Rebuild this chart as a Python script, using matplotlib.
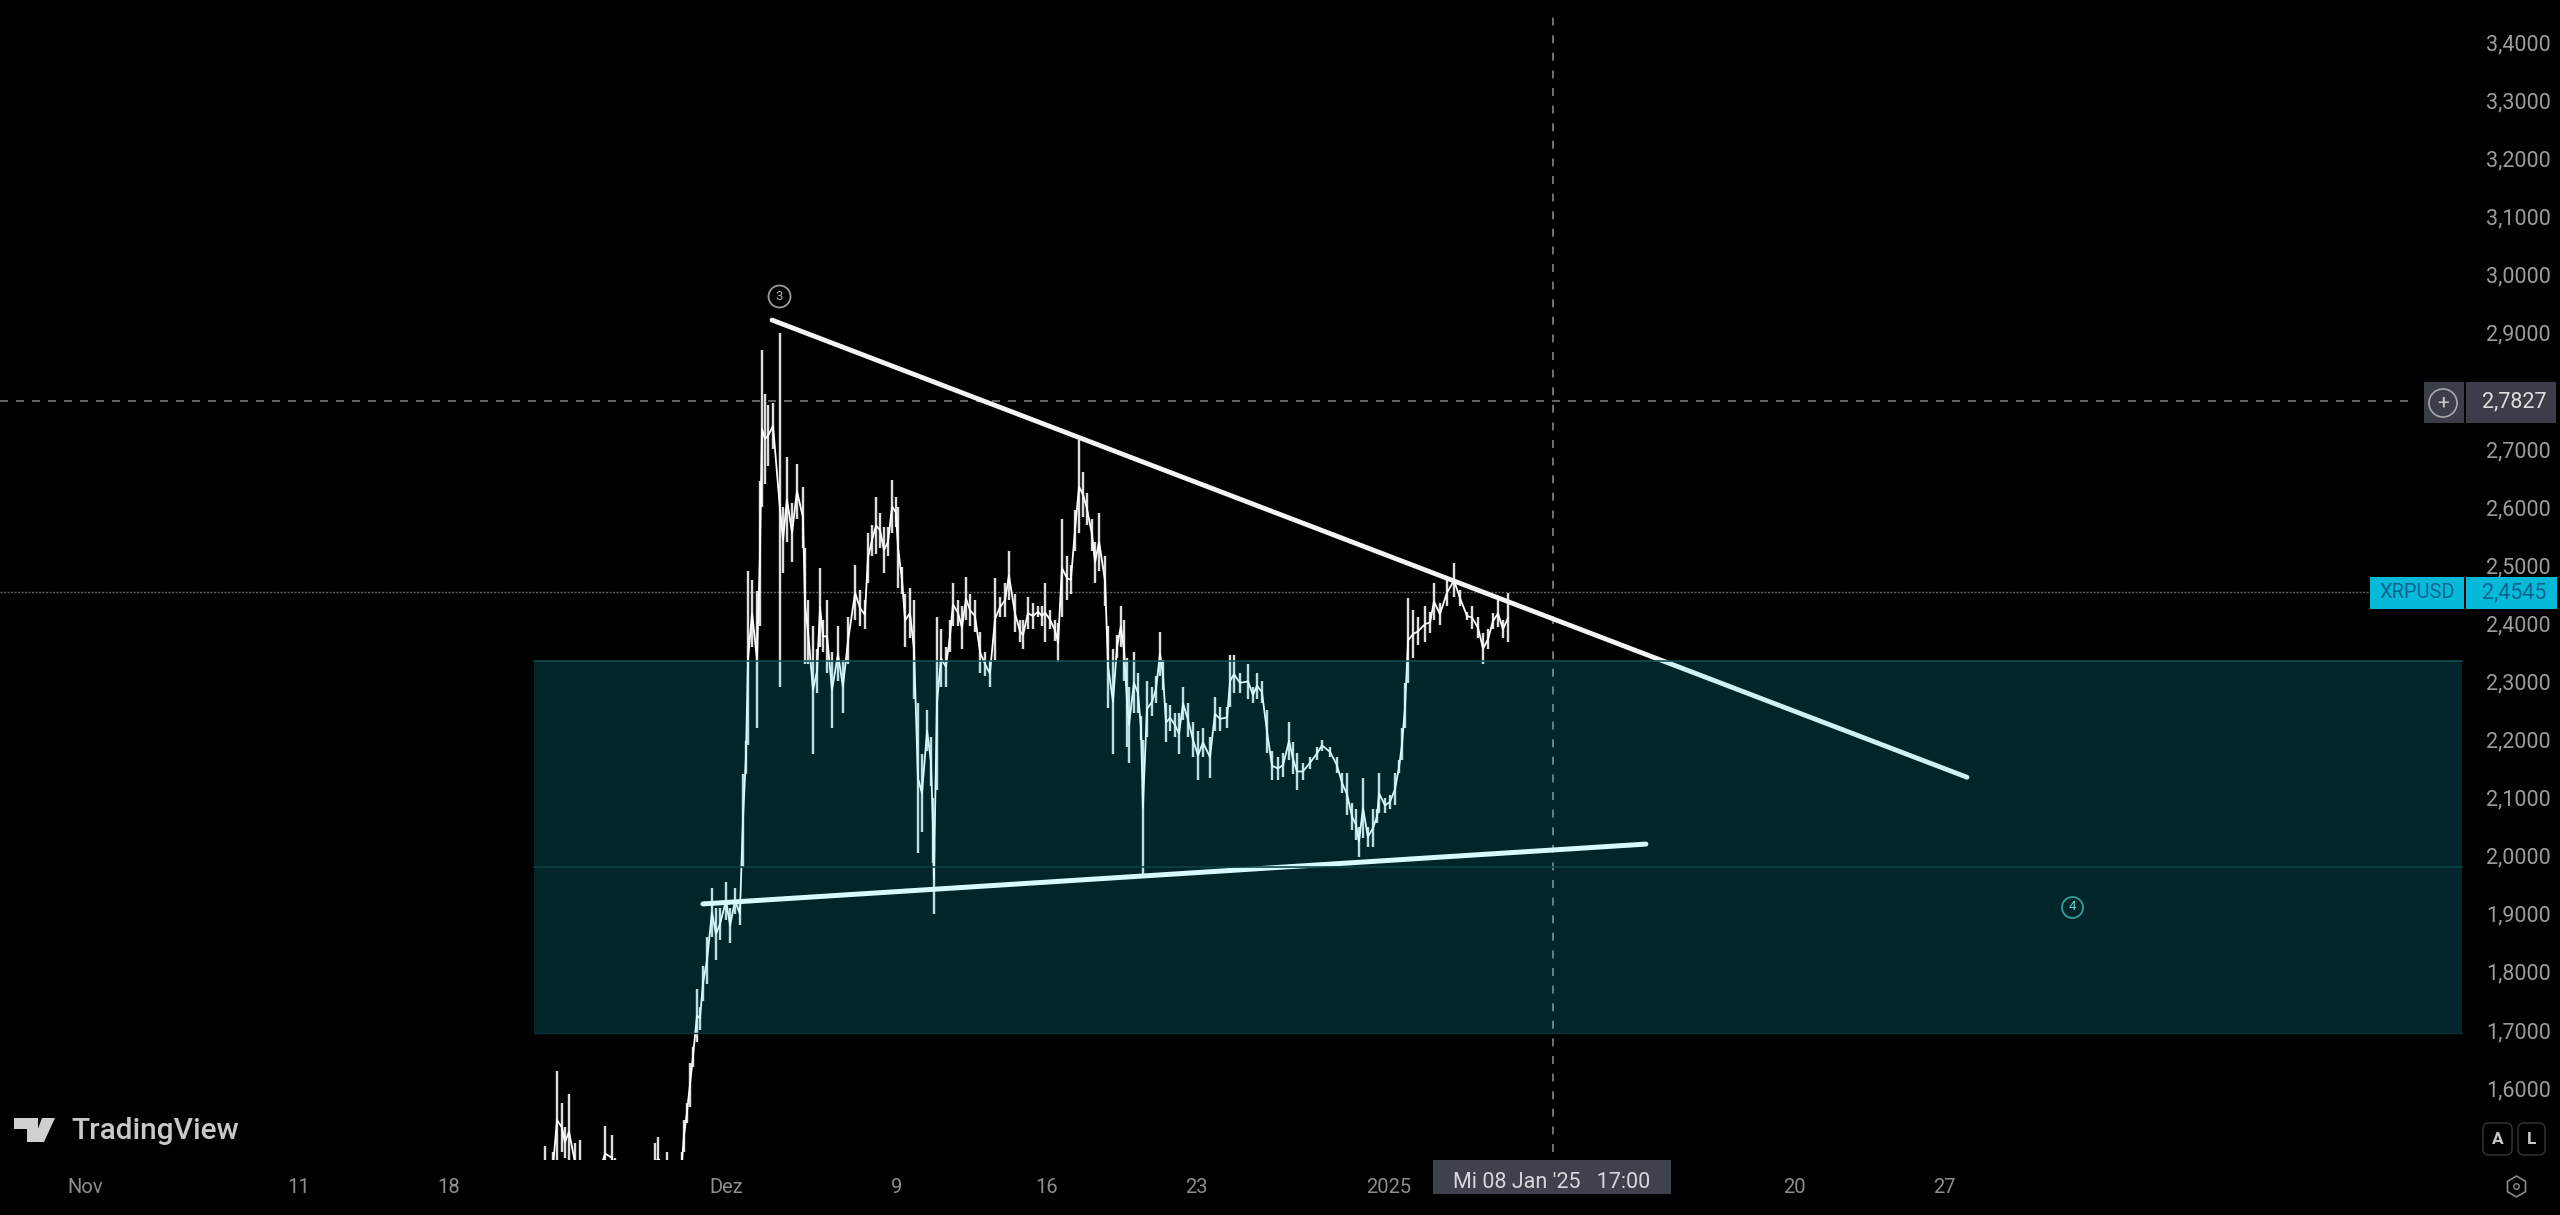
import matplotlib
matplotlib.use("Agg")
import matplotlib.pyplot as plt
from matplotlib.patches import Rectangle, Polygon, Circle, FancyBboxPatch
from matplotlib.ticker import FixedLocator, FixedFormatter

W, H = 2560, 1215
plt.rcParams['font.family'] = ['Roboto', 'DejaVu Sans']

# x is days since 1 Nov 2024
bar_days = [21.53,21.90,22.09,22.32,22.46,22.65,22.93,23.17,23.87,24.34,24.66,24.80,25.51,26.68,26.82,27.24,27.71,27.94,28.03,28.17,28.31,28.45,28.64,28.78,28.92,29.11,29.34,29.53,29.72,30.00,30.19,30.42,30.65,30.79,30.93,31.03,31.22,31.45,31.59,31.68,31.82,31.96,32.20,32.53,32.67,32.85,33.09,33.32,33.60,33.70,33.84,34.07,34.26,34.40,34.54,34.73,34.96,35.24,35.47,35.71,36.04,36.27,36.50,36.64,36.83,37.02,37.21,37.39,37.58,37.77,37.95,38.05,38.24,38.38,38.61,38.80,38.98,39.17,39.41,39.59,39.69,39.73,39.87,40.06,40.29,40.48,40.62,40.86,41.04,41.23,41.42,41.65,41.89,42.12,42.35,42.59,42.82,43.06,43.24,43.52,43.76,43.90,44.13,44.37,44.60,44.79,44.93,45.16,45.40,45.54,45.72,45.96,46.14,46.33,46.52,46.71,46.89,47.13,47.27,47.46,47.74,47.88,48.11,48.30,48.48,48.63,48.77,48.86,49.09,49.28,49.42,49.51,49.70,49.94,50.12,50.31,50.45,50.59,50.78,51.01,51.20,51.39,51.62,51.85,52.09,52.32,52.65,52.88,53.12,53.45,53.59,53.77,54.05,54.43,54.66,54.85,55.08,55.32,55.55,55.83,56.07,56.35,56.53,56.72,57.00,57.33,57.66,57.89,58.27,58.59,58.83,59.06,59.30,59.48,59.62,59.81,60.04,60.28,60.47,60.56,60.84,61.07,61.31,61.50,61.64,61.78,61.92,62.15,62.38,62.71,62.95,63.13,63.41,63.74,64.07,64.35,64.68,64.91,65.19,65.43,65.66,65.89,66.13,66.36,66.60]
bar_highs = [1.50,1.49,1.63,1.575,1.533,1.59,1.505,1.51,1.46,1.535,1.52,1.48,1.46,1.505,1.516,1.49,1.47,1.49,1.545,1.575,1.643,1.67,1.77,1.74,1.81,1.86,1.945,1.91,1.91,1.955,1.91,1.945,1.92,2.14,2.197,2.49,2.475,2.455,2.645,2.87,2.795,2.775,2.78,2.90,2.60,2.687,2.607,2.675,2.635,2.53,2.44,2.395,2.355,2.495,2.405,2.44,2.35,2.395,2.337,2.41,2.50,2.457,2.44,2.555,2.57,2.617,2.59,2.565,2.565,2.647,2.617,2.60,2.497,2.45,2.46,2.44,2.263,2.175,2.25,2.205,2.10,2.02,2.41,2.39,2.36,2.405,2.47,2.44,2.43,2.48,2.45,2.44,2.385,2.35,2.337,2.478,2.445,2.47,2.525,2.45,2.405,2.405,2.445,2.435,2.43,2.43,2.47,2.423,2.405,2.40,2.58,2.515,2.50,2.595,2.715,2.66,2.625,2.58,2.54,2.59,2.515,2.395,2.355,2.38,2.43,2.405,2.34,2.29,2.35,2.315,2.24,2.20,2.30,2.29,2.31,2.385,2.337,2.263,2.26,2.245,2.245,2.29,2.263,2.23,2.215,2.22,2.205,2.273,2.256,2.256,2.345,2.345,2.315,2.33,2.29,2.315,2.30,2.25,2.18,2.17,2.177,2.23,2.195,2.177,2.16,2.17,2.187,2.20,2.187,2.17,2.142,2.142,2.09,2.08,2.05,2.134,2.05,2.08,2.08,2.142,2.10,2.105,2.142,2.165,2.22,2.297,2.444,2.423,2.41,2.43,2.42,2.47,2.435,2.475,2.503,2.457,2.42,2.43,2.41,2.383,2.39,2.417,2.44,2.405,2.452]
bar_lows = [1.44,1.44,1.46,1.49,1.48,1.46,1.44,1.44,1.40,1.44,1.44,1.44,1.40,1.44,1.44,1.44,1.44,1.46,1.49,1.54,1.567,1.636,1.68,1.70,1.75,1.78,1.86,1.82,1.855,1.89,1.85,1.90,1.88,1.98,2.14,2.19,2.36,2.22,2.395,2.60,2.64,2.67,2.70,2.29,2.487,2.54,2.505,2.58,2.53,2.33,2.33,2.175,2.28,2.36,2.35,2.315,2.22,2.30,2.245,2.33,2.405,2.395,2.39,2.47,2.515,2.52,2.53,2.487,2.515,2.555,2.565,2.46,2.45,2.36,2.375,2.27,2.005,2.04,2.18,2.12,1.987,1.90,2.113,2.29,2.29,2.35,2.395,2.395,2.355,2.405,2.395,2.385,2.315,2.31,2.29,2.337,2.41,2.41,2.44,2.385,2.367,2.355,2.39,2.39,2.41,2.395,2.367,2.39,2.37,2.333,2.41,2.44,2.45,2.525,2.555,2.583,2.57,2.525,2.47,2.49,2.43,2.255,2.175,2.34,2.36,2.30,2.187,2.16,2.245,2.245,2.20,1.965,2.205,2.24,2.263,2.31,2.285,2.195,2.215,2.205,2.175,2.234,2.205,2.17,2.13,2.17,2.134,2.215,2.215,2.22,2.256,2.28,2.28,2.27,2.263,2.27,2.263,2.177,2.13,2.13,2.135,2.165,2.14,2.113,2.13,2.15,2.165,2.18,2.17,2.142,2.108,2.07,2.044,2.027,1.998,2.03,2.015,2.015,2.056,2.073,2.073,2.08,2.087,2.142,2.165,2.22,2.297,2.34,2.362,2.367,2.383,2.405,2.397,2.43,2.445,2.43,2.405,2.39,2.375,2.33,2.355,2.39,2.394,2.375,2.367]

zone_low, zone_high, zone_mid = 1.695, 2.335, 1.98
zone_start, zone_end = 21.01, 111.25
upper_x, upper_y = [32.15, 88.08], [2.922, 2.135]
lower_x, lower_y = [28.92, 73.05], [1.917, 2.02]
cross_day, cross_price = 68.7, 2.7827
last_price = 2.4545
wave3 = (32.5, 2.963)
wave4 = (93.0, 1.912)

price_ticks = [1.6,1.7,1.8,1.9,2.0,2.1,2.2,2.3,2.4,2.5,2.6,2.7,2.9,3.0,3.1,3.2,3.3,3.4]
price_labels = ['1,6000','1,7000','1,8000','1,9000','2,0000','2,1000','2,2000','2,3000','2,4000','2,5000','2,6000','2,7000','2,9000','3,0000','3,1000','3,2000','3,3000','3,4000']
date_ticks = [0, 10, 17, 30, 38, 45, 52, 61, 80, 87]
date_labels = ['Nov', '11', '18', 'Dez', '9', '16', '23', '2025', '20', '27']

fig = plt.figure(figsize=(W/100, H/100), dpi=100, facecolor='black')
# main pane: 0..2465 px wide, 0..1160 px tall
ax = fig.add_axes([0, 1-1160/H, 2465/W, 1160/H], facecolor='black')
ax.set_xlim(-3.978, (2465-85)*0.0468)
ax.set_ylim(1.7-130/581, 1.7+1030/581)
for s in ax.spines.values():
    s.set_visible(False)

ax.yaxis.tick_right()
ax.yaxis.set_major_locator(FixedLocator(price_ticks))
ax.yaxis.set_major_formatter(FixedFormatter(price_labels))
ax.xaxis.set_major_locator(FixedLocator(date_ticks))
ax.xaxis.set_major_formatter(FixedFormatter(date_labels))
ax.tick_params(axis='y', length=0, pad=15, labelsize=15.5, labelcolor='#9c9c9c')
ax.tick_params(axis='x', length=0, pad=13, labelsize=14.5, labelcolor='#8e8e8e')
for lbl in ax.get_yticklabels():
    lbl.set_verticalalignment('center_baseline')

px = 0.72
# crosshair and last-price guides
ax.plot([-3.978, (2415-85)*0.0468], [cross_price]*2, color='#7c7c7c', lw=1.6*px, dashes=(5, 5), zorder=1)
ax.plot([-3.978, (2370-85)*0.0468], [last_price]*2, color='#625e5a', lw=1.4*px, ls=(0, (1.5, 1)), zorder=1)
ax.plot([cross_day]*2, [1.49, 3.45], color='#8a8a8a', lw=1.6*px, dashes=(5, 6), zorder=1)

# price bars
mids = [(a+b)/2 for a, b in zip(bar_highs, bar_lows)]
ax.vlines(bar_days, bar_lows, bar_highs, color='#dcdcdc', lw=2.4*px, zorder=2)
ax.plot(bar_days, mids, color='white', lw=1.8*px, zorder=3, solid_joinstyle='round')

# trend lines
ax.plot(upper_x, upper_y, color='#f4f4f4', lw=4.8*px, zorder=4, solid_capstyle='round')
ax.plot(lower_x, lower_y, color='white', lw=5*px, zorder=4, solid_capstyle='round')

# zone over the price
ax.add_patch(Rectangle((zone_start, zone_low), zone_end-zone_start, zone_high-zone_low,
                       facecolor=(0.07, 0.90, 1.0), alpha=0.165, edgecolor='none', zorder=5))
ax.plot([zone_start, zone_end], [zone_high]*2, color='#0f4f52', lw=1.6*px, zorder=6)
ax.plot([zone_start, zone_end], [zone_low]*2, color='#0a3236', lw=1.4*px, zorder=6)
ax.plot([zone_start, zone_end], [zone_mid]*2, color='#0c4144', lw=1.6*px, zorder=6)

# wave labels
ax.plot(*wave3, 'o', ms=22*px, mfc='none', mec='#9a9a9a', mew=1.8*px, zorder=7)
ax.text(*wave3, '3', color='#b5b5b5', fontsize=9.5, ha='center', va='center', zorder=7)
ax.plot(*wave4, 'o', ms=21*px, mfc='none', mec='#2f9f9c', mew=1.8*px, zorder=7)
ax.text(*wave4, '4', color='#5fd0cc', fontsize=9.5, ha='center', va='center', zorder=7)

# helpers working in full-figure pixels
def R(x0, y0, x1, y1, c, **k):
    fig.add_artist(Rectangle((x0/W, 1-y1/H), (x1-x0)/W, (y1-y0)/H, transform=fig.transFigure,
                             facecolor=c, edgecolor='none', **k))
def T(x, y, s, **k):
    fig.text(x/W, 1-y/H, s, ha='center', va='center', **k)

# price badges
R(2424, 382, 2464, 423, '#3b3d48', zorder=10)
R(2466, 382, 2556, 423, '#3b3d48', zorder=10)
fig.add_artist(Circle((2443, H-403), 14, transform=None, facecolor='none', edgecolor='#a8a8ac', lw=1.2, zorder=11))
T(2443, 403, '+', color='#c8c8cc', fontsize=15, zorder=11)
T(2514, 402, '2,7827', color='#e0e0e0', fontsize=15.5, zorder=11)
R(2370, 577, 2464, 609, '#05b9d9', zorder=10)
R(2466, 577, 2557, 609, '#05b9d9', zorder=10)
T(2417, 593, 'XRPUSD', color='#0b6391', fontsize=14.5, zorder=11)
T(2514, 593, '2,4545', color='#0b6391', fontsize=15.5, zorder=11)

# date badge
R(1433, 1160, 1671, 1194, '#3f414d', zorder=10)
T(1552, 1182, "Mi 08 Jan '25   17:00", color='#d8d8dc', fontsize=15.5, zorder=11)

# logo
for pts in ([(14, 1118), (38, 1118), (38, 1142), (27, 1142), (27, 1129), (14, 1129)],
            [(44, 1142), (55, 1118), (42, 1118), (33, 1142)]):
    fig.add_artist(Polygon([(x/W, 1-y/H) for x, y in pts], closed=True, transform=fig.transFigure,
                           facecolor='#d0d0d0', edgecolor='none', zorder=10))
T(155, 1131, 'TradingView', color='#c8c8c8', fontsize=21.5, fontweight='medium', zorder=10)

# corner buttons
for x0, x1, s in ((2483, 2512, 'A'), (2518, 2545, 'L')):
    fig.add_artist(FancyBboxPatch((x0, H-1155), x1-x0, 32, boxstyle='round,pad=0,rounding_size=6',
                                  transform=None, facecolor='black', edgecolor='#2e2e2e', lw=1.2, zorder=10))
    T((x0+x1)/2, 1139, s, color='#c8c8c8', fontsize=12.5, fontweight='bold', zorder=11)
fig.add_artist(plt.Line2D([2516/W], [1-1186/H], marker='h', ms=15, mfc='none', mec='#8a8a8a', mew=1.2,
                          transform=fig.transFigure, zorder=10))
fig.add_artist(plt.Line2D([2516/W], [1-1186/H], marker='o', ms=4, mfc='none', mec='#8a8a8a', mew=1,
                          transform=fig.transFigure, zorder=10))

fig.savefig('out.png', dpi=100, facecolor='black')
